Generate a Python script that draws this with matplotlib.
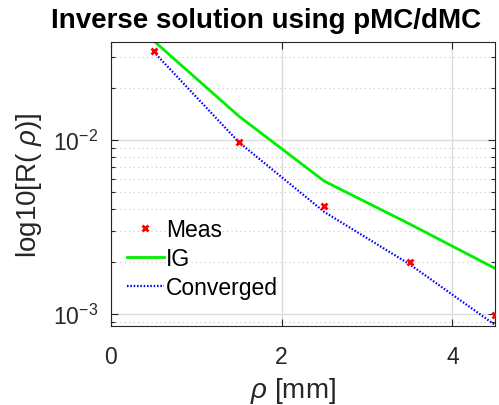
import numpy as np
import matplotlib
matplotlib.use("Agg")
import matplotlib.pyplot as plt
from matplotlib.ticker import LogLocator, NullFormatter, FixedLocator

plt.rcParams['font.family'] = ['Liberation Sans', 'DejaVu Sans']
plt.rcParams['mathtext.fontset'] = 'custom'
plt.rcParams['mathtext.rm'] = 'Liberation Sans'
plt.rcParams['mathtext.it'] = 'Liberation Sans:italic'

# data
rho = [0.5, 1.5, 2.5, 3.5, 4.5]
meas = [0.0326, 0.0098, 0.00418, 0.00198, 0.00099]
ig = [0.0372, 0.0137, 0.0058, 0.00329, 0.00183]
conv = [0.0322, 0.0097, 0.00386, 0.00193, 0.000865]

fig = plt.figure(figsize=(4.99, 4.06), dpi=100)
ax = fig.add_axes([0.2224, 0.1946, 0.7696, 0.6994])

ax.plot(rho, meas, 'x', color='red', ms=4, mew=2, label='Meas', zorder=4)
ax.plot(rho, ig, '-', color='#00ee00', lw=2, label='IG')
ax.plot(rho, conv, color='blue', lw=1.6, ls=(0, (0.7, 0.8)), label='Converged')

ax.set_yscale('log')
ax.set_xlim(0, 4.5)
ax.set_ylim(8.53e-4, 0.0366)
ax.xaxis.set_major_locator(FixedLocator([0, 2, 4]))
ax.yaxis.set_major_locator(LogLocator(base=10, numticks=10))
ax.yaxis.set_minor_locator(LogLocator(base=10, subs=np.arange(2, 10), numticks=10))
ax.yaxis.set_minor_formatter(NullFormatter())

gray = '#262626'
ax.grid(True, which='major', color='#dcdcdc', lw=1, ls='-')
ax.grid(True, which='minor', axis='y', color='#c8c8c8', lw=0.8, ls=(0, (1, 3)))
ax.set_axisbelow(True)
ax.tick_params(which='both', direction='in', top=True, right=True, colors=gray,
               labelsize=16.5, width=0.8)
ax.tick_params(which='major', length=5)
ax.tick_params(which='minor', length=3)
ax.tick_params(axis='x', which='major', pad=13.5)
ax.tick_params(axis='y', which='major', pad=9)
for s in ax.spines.values():
    s.set_color(gray)
    s.set_linewidth(0.8)

ax.set_xlabel(r'$\rho$ [mm]', fontsize=20, color=gray)
ax.xaxis.set_label_coords(0.474, -0.172)
ax.set_ylabel(r'log10[R( $\rho$)]', fontsize=20, color=gray)
ax.yaxis.set_label_coords(-0.174, 0.5)
fig.text(0.533, 0.948, 'Inverse solution using pMC/dMC', fontsize=20,
         fontweight='bold', ha='center', va='center')

ax.legend(loc='lower left', bbox_to_anchor=(0.0, 0.04), frameon=False,
          fontsize=16.5, handlelength=1.6, handletextpad=0.1, labelspacing=0.26,
          borderaxespad=0.3)

fig.savefig('out.png', dpi=100)
